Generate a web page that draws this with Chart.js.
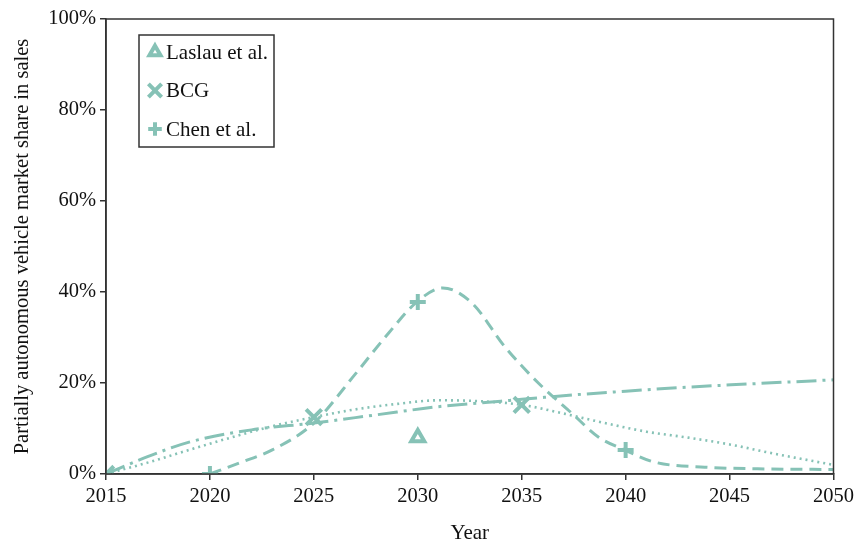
<!DOCTYPE html>
<html>
<head>
<meta charset="utf-8">
<script src="https://cdn.jsdelivr.net/npm/chart.js@4"></script>
<style>
  html, body { margin: 0; padding: 0; background: #fff; }
  #wrap { width: 858px; height: 546px; }
</style>
</head>
<body>
<div id="wrap"><canvas id="shareChart" width="858" height="546"></canvas></div>
<script>
// --- Data ---
const yTicks = [0, 20, 40, 60, 80, 100];
const xTicks = [2015, 2020, 2025, 2030, 2035, 2040, 2045, 2050];

// study estimates (markers)
const laslauYears = [2030];
const laslauShare = [8];
const bcgYears = [2015, 2025, 2035];
const bcgShare = [0, 12.5, 15.2];
const chenYears = [2020, 2030, 2040];
const chenShare = [0, 37.8, 5.3];

// fitted curves
const laslauFitYears = [2015, 2017, 2019, 2022, 2025, 2028, 2031, 2034, 2037, 2040, 2043, 2046, 2050];
const laslauFitShare = [0, 3.8, 7, 9.7, 11.2, 13, 14.8, 16, 17.2, 18.2, 19.1, 19.8, 20.7];
const bcgFitYears = [2015, 2017, 2019, 2021, 2023, 2025, 2027, 2029, 2031, 2033, 2035, 2037, 2039, 2041, 2043, 2045, 2047, 2050];
const bcgFitShare = [0, 2.5, 5.3, 8, 10.5, 12.5, 14.2, 15.4, 16.2, 16, 15.2, 13.3, 11.2, 9.3, 8, 6.5, 4.6, 2];
const chenFitYears = [2020, 2021.4, 2023, 2025, 2027, 2028.6, 2030, 2031.2, 2032.6, 2034.2, 2035.8, 2037.4, 2038.7, 2040, 2041.4, 2043.8, 2047, 2050];
const chenFitShare = [0, 2.4, 5.3, 11.2, 22, 31, 38, 40.9, 37.6, 27.9, 20, 13.4, 8.1, 5.2, 2.6, 1.5, 1.1, 1];

const TEAL = '#86c2b6';
const AXIS = '#333';
const FONT = '"Liberation Serif", "Times New Roman", serif';

const pts = (xs, ys) => xs.map((x, i) => ({ x: x, y: ys[i] }));

const markerRadius = { triangle: 7.5, crossRot: 11, cross: 8 };

const markerSet = (label, xs, ys, style) => ({
    label: label,
    data: pts(xs, ys),
    showLine: false,
    pointStyle: style,
    pointRadius: markerRadius[style],
    pointBorderWidth: 4,
    pointBorderColor: TEAL,
    pointBackgroundColor: style === 'triangle' ? '#fff' : TEAL,
    isMarker: true,
    order: 0
});

const fitSet = (xs, ys, dash, width) => ({
    label: '',
    data: pts(xs, ys),
    showLine: true,
    borderColor: TEAL,
    borderWidth: width,
    borderDash: dash,
    pointRadius: 0,
    cubicInterpolationMode: 'monotone',
    fill: false,
    order: 1
});

// frame around the plot area and the boxed legend
const framePlugin = {
    id: 'frame',
    afterDatasetsDraw(chart) {
        const { ctx, chartArea: a } = chart;
        ctx.save();
        ctx.strokeStyle = AXIS;
        ctx.lineWidth = 1.5;
        ctx.strokeRect(a.left, a.top, a.right - a.left, a.bottom - a.top);

        // legend box
        const bx = 139, by = 35, bw = 135, bh = 112;
        ctx.fillStyle = '#fff';
        ctx.fillRect(bx, by, bw, bh);
        ctx.lineWidth = 1.5;
        ctx.strokeRect(bx, by, bw, bh);

        const items = chart.data.datasets.filter(d => d.isMarker);
        ctx.font = '21px ' + FONT;
        ctx.textBaseline = 'middle';
        items.forEach((d, i) => {
            const cy = by + 17 + i * 38.5;
            ctx.strokeStyle = TEAL;
            ctx.fillStyle = d.pointBackgroundColor;
            ctx.lineWidth = 4;
            Chart.helpers.drawPoint(ctx, {
                pointStyle: d.pointStyle,
                radius: d.pointRadius * 0.85,
                rotation: 0,
                borderWidth: 4
            }, bx + 16, cy);
            ctx.fillStyle = '#111';
            ctx.fillText(d.label, bx + 27, cy + 1);
        });
        ctx.restore();
    }
};

new Chart(document.getElementById('shareChart'), {
    type: 'scatter',
    data: {
        datasets: [
            markerSet('Laslau et al.', laslauYears, laslauShare, 'triangle'),
            markerSet('BCG', bcgYears, bcgShare, 'crossRot'),
            markerSet('Chen et al.', chenYears, chenShare, 'cross'),
            fitSet(laslauFitYears, laslauFitShare, [20, 6, 3, 6], 3),
            fitSet(bcgFitYears, bcgFitShare, [2, 4], 2.6),
            fitSet(chenFitYears, chenFitShare, [12, 7], 3)
        ]
    },
    options: {
        responsive: false,
        animation: false,
        layout: { padding: { top: 19, right: 23, left: 0, bottom: 0 } },
        plugins: {
            legend: { display: false },
            tooltip: { enabled: false }
        },
        scales: {
            x: {
                type: 'linear',
                min: xTicks[0],
                max: xTicks[xTicks.length - 1],
                afterBuildTicks: s => { s.ticks = xTicks.map(v => ({ value: v })); },
                afterFit: s => { s.height = 72; },
                border: { display: true, color: AXIS, width: 1.5 },
                grid: { display: true, drawOnChartArea: false, drawTicks: true, tickLength: 6, color: AXIS, lineWidth: 1.5 },
                ticks: { color: '#111', font: { family: FONT, size: 20.5 }, padding: 4, callback: v => String(v) },
                title: { display: true, text: 'Year', color: '#111', font: { family: FONT, size: 21 }, padding: { top: 12, bottom: 0 } }
            },
            y: {
                min: 0,
                max: 100,
                afterBuildTicks: s => { s.ticks = yTicks.map(v => ({ value: v })); },
                afterFit: s => { s.width = 106; },
                border: { display: true, color: AXIS, width: 1.5 },
                grid: { display: true, drawOnChartArea: false, drawTicks: true, tickLength: 6, color: AXIS, lineWidth: 1.5 },
                ticks: { color: '#111', font: { family: FONT, size: 20.5 }, padding: 4, callback: v => v + '%' },
                title: { display: true, text: 'Partially autonomous vehicle market share in sales', color: '#111', font: { family: FONT, size: 20.5 }, padding: { top: 10, bottom: 4 } }
            }
        }
    },
    plugins: [framePlugin]
});
</script>
</body>
</html>
